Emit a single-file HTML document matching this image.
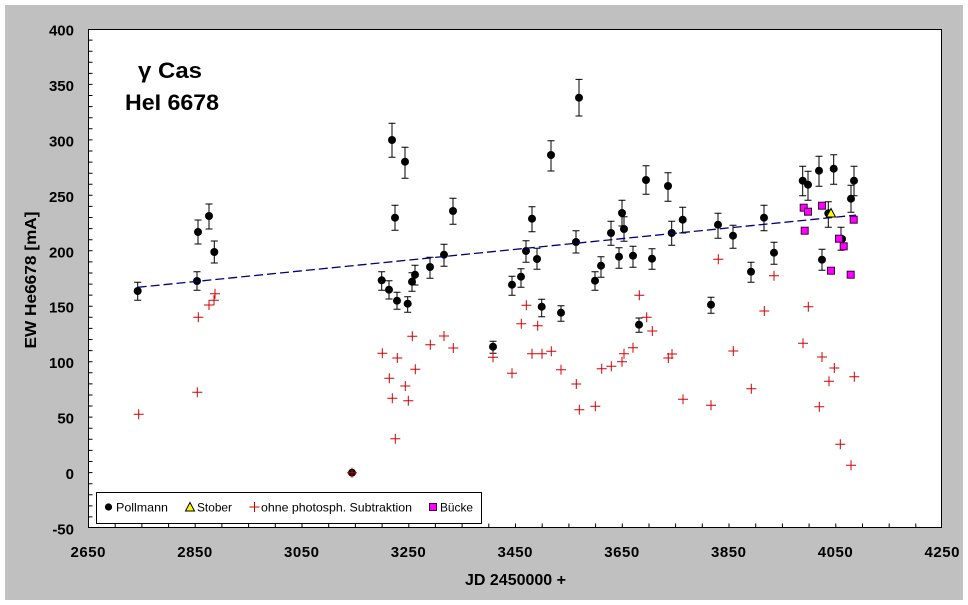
<!DOCTYPE html>
<html>
<head>
<meta charset="utf-8">
<style>
html,body{margin:0;padding:0;background:#fff;}
svg{display:block;}
text{font-family:"Liberation Sans",Arial,sans-serif;}
</style>
</head>
<body>
<svg width="968" height="605" viewBox="0 0 968 605" xmlns="http://www.w3.org/2000/svg">
<defs>
<circle id="d" r="4" fill="#000"/>
<path id="c" d="M-5 0H5M0-5V5" stroke="#d40000" stroke-width="1" fill="none"/>
<rect id="s" x="-3.5" y="-3.5" width="7" height="7" fill="#ff00ff" stroke="#400040" stroke-width="1"/>
</defs>
<rect x="0" y="0" width="968" height="605" fill="#fff"/>
<rect x="5" y="5" width="958" height="595" fill="#c0c0c0"/>
<rect x="88.5" y="29.5" width="853" height="498" fill="#fff" stroke="#000" stroke-width="1"/>

<g stroke="#000" stroke-width="1">
<path d="M115.2 528v-4.5M141.9 528v-4.5M168.6 528v-4.5M195.2 528v-4.5M221.9 528v-4.5M248.6 528v-4.5M275.3 528v-4.5M302 528v-4.5M328.7 528v-4.5M355.4 528v-4.5M382.1 528v-4.5M408.8 528v-4.5M435.4 528v-4.5M462.1 528v-4.5M488.8 528v-4.5M515.5 528v-4.5M542.2 528v-4.5M568.9 528v-4.5M595.6 528v-4.5M622.3 528v-4.5M649 528v-4.5M675.6 528v-4.5M702.3 528v-4.5M729 528v-4.5M755.7 528v-4.5M782.4 528v-4.5M809.1 528v-4.5M835.8 528v-4.5M862.5 528v-4.5M889.2 528v-4.5M915.8 528v-4.5"/>
<path d="M88 40.1h4.5M88 51.2h4.5M88 62.3h4.5M88 73.4h4.5M88 84.4h4.5M88 95.5h4.5M88 106.6h4.5M88 117.7h4.5M88 128.8h4.5M88 139.9h4.5M88 151h4.5M88 162.1h4.5M88 173.2h4.5M88 184.2h4.5M88 195.3h4.5M88 206.4h4.5M88 217.5h4.5M88 228.6h4.5M88 239.7h4.5M88 250.8h4.5M88 261.9h4.5M88 273h4.5M88 284.1h4.5M88 295.1h4.5M88 306.2h4.5M88 317.3h4.5M88 328.4h4.5M88 339.5h4.5M88 350.6h4.5M88 361.7h4.5M88 372.8h4.5M88 383.9h4.5M88 395h4.5M88 406h4.5M88 417.1h4.5M88 428.2h4.5M88 439.3h4.5M88 450.4h4.5M88 461.5h4.5M88 472.6h4.5M88 483.7h4.5M88 494.8h4.5M88 505.9h4.5M88 516.9h4.5"/>
</g>

<g font-weight="bold" font-size="15" fill="#000" text-anchor="end">
<text x="74" y="35.5">400</text>
<text x="74" y="90.9">350</text>
<text x="74" y="146.4">300</text>
<text x="74" y="201.8">250</text>
<text x="74" y="257.3">200</text>
<text x="74" y="312.7">150</text>
<text x="74" y="368.2">100</text>
<text x="74" y="423.6">50</text>
<text x="74" y="479.1">0</text>
<text x="74" y="534.5">-50</text>
</g>
<g font-weight="bold" font-size="15" fill="#000" text-anchor="middle">
<text x="88" y="557" textLength="35">2650</text>
<text x="194.75" y="557" textLength="35">2850</text>
<text x="301.5" y="557" textLength="35">3050</text>
<text x="408.25" y="557" textLength="35">3250</text>
<text x="515" y="557" textLength="35">3450</text>
<text x="621.75" y="557" textLength="35">3650</text>
<text x="728.5" y="557" textLength="35">3850</text>
<text x="835.25" y="557" textLength="35">4050</text>
<text x="942" y="557" textLength="35">4250</text>
</g>
<text x="515.5" y="585" font-weight="bold" font-size="16" text-anchor="middle" textLength="101" lengthAdjust="spacingAndGlyphs">JD 2450000 +</text>
<text transform="translate(36,280) rotate(-90)" font-weight="bold" font-size="15.5" text-anchor="middle" textLength="137" lengthAdjust="spacingAndGlyphs">EW He6678 [mA]</text>
<text x="170" y="78" font-weight="bold" font-size="22" text-anchor="middle" textLength="64" lengthAdjust="spacingAndGlyphs">γ Cas</text>
<text x="172" y="110" font-weight="bold" font-size="22" text-anchor="middle" textLength="94" lengthAdjust="spacingAndGlyphs">HeI 6678</text>

<g stroke="#000" stroke-width="1" fill="none">
<path d="M137.7 282.3V300.3M134.2 282.3h7M134.2 300.3h7
M197 271.7V290.3M193.5 271.7h7M193.5 290.3h7
M198 220V244M194.5 220h7M194.5 244h7
M209 204V229M205.5 204h7M205.5 229h7
M214.3 241V263M210.8 241h7M210.8 263h7
M392 123.3V157.3M388.5 123.3h7M388.5 157.3h7
M405 147.3V178.3M401.5 147.3h7M401.5 178.3h7
M395 205.3V230.3M391.5 205.3h7M391.5 230.3h7
M453 198.3V224.3M449.5 198.3h7M449.5 224.3h7
M444 244.3V266.3M440.5 244.3h7M440.5 266.3h7
M430 257.3V278.3M426.5 257.3h7M426.5 278.3h7
M415 265.3V285M411.5 265.3h7M411.5 285h7
M412 272.7V291.3M408.5 272.7h7M408.5 291.3h7
M381.7 271.7V290.3M378.2 271.7h7M378.2 290.3h7
M389 280.7V299M385.5 280.7h7M385.5 299h7
M397 292.3V309.3M393.5 292.3h7M393.5 309.3h7
M407.7 296.7V312.3M404.2 296.7h7M404.2 312.3h7
M579 79.4V116M575.5 79.4h7M575.5 116h7
M551 140.7V171M547.5 140.7h7M547.5 171h7
M646 165.7V194.3M642.5 165.7h7M642.5 194.3h7
M532 206.7V231.7M528.5 206.7h7M528.5 231.7h7
M622 200.3V226M618.5 200.3h7M618.5 226h7
M624 216.7V241.3M620.5 216.7h7M620.5 241.3h7
M611 221.3V245.3M607.5 221.3h7M607.5 245.3h7
M576 230.7V253M572.5 230.7h7M572.5 253h7
M526 240.7V262.3M522.5 240.7h7M522.5 262.3h7
M537 248.3V269.3M533.5 248.3h7M533.5 269.3h7
M619 247.7V268.3M615.5 247.7h7M615.5 268.3h7
M633 246.3V267.3M629.5 246.3h7M629.5 267.3h7
M652 248.7V269.3M648.5 248.7h7M648.5 269.3h7
M601 256.7V277.3M597.5 256.7h7M597.5 277.3h7
M595 271.7V290.3M591.5 271.7h7M591.5 290.3h7
M521 268.7V287.3M517.5 268.7h7M517.5 287.3h7
M512 276.3V295.3M508.5 276.3h7M508.5 295.3h7
M541.7 299.3V316.7M538.2 299.3h7M538.2 316.7h7
M561 305.7V321.3M557.5 305.7h7M557.5 321.3h7
M639 318V332.3M635.5 318h7M635.5 332.3h7
M493 341.3V353.3M489.5 341.3h7M489.5 353.3h7
M668 172.7V201.3M664.5 172.7h7M664.5 201.3h7
M671.7 221.3V245.3M668.2 221.3h7M668.2 245.3h7
M682.7 207.3V233M679.2 207.3h7M679.2 233h7
M718 213.3V238.3M714.5 213.3h7M714.5 238.3h7
M733 225.3V248.3M729.5 225.3h7M729.5 248.3h7
M764 205.3V230.7M760.5 205.3h7M760.5 230.7h7
M774 242.3V264.3M770.5 242.3h7M770.5 264.3h7
M751 262.3V282.3M747.5 262.3h7M747.5 282.3h7
M711 297.3V313.3M707.5 297.3h7M707.5 313.3h7
M802.7 166.3V195.7M799.2 166.3h7M799.2 195.7h7
M808 171.3V200.3M804.5 171.3h7M804.5 200.3h7
M819 156.3V186.3M815.5 156.3h7M815.5 186.3h7
M833.7 154.7V184.3M830.2 154.7h7M830.2 184.3h7
M854 166.3V195.7M850.5 166.3h7M850.5 195.7h7
M851 185.3V212.3M847.5 185.3h7M847.5 212.3h7
M828.3 201.7V227.3M824.8 201.7h7M824.8 227.3h7
M822 249.3V270.3M818.5 249.3h7M818.5 270.3h7
M841 227.3V250.3M837.5 227.3h7M837.5 250.3h7"/>
</g>

<g>
<use href="#d" x="137.7" y="291"/><use href="#d" x="197" y="281"/><use href="#d" x="198" y="232"/>
<use href="#d" x="209" y="216"/><use href="#d" x="214.3" y="252"/><use href="#d" x="352" y="472.7"/>
<use href="#d" x="392" y="140"/><use href="#d" x="405" y="161.7"/><use href="#d" x="395" y="217.7"/>
<use href="#d" x="453" y="211"/><use href="#d" x="444" y="254.7"/><use href="#d" x="430" y="267"/>
<use href="#d" x="415" y="274.7"/><use href="#d" x="412" y="281.7"/><use href="#d" x="381.7" y="280.3"/>
<use href="#d" x="389" y="289.7"/><use href="#d" x="397" y="300.7"/><use href="#d" x="407.7" y="303.7"/>
<use href="#d" x="579" y="97.7"/><use href="#d" x="551" y="155"/><use href="#d" x="646" y="180"/>
<use href="#d" x="532" y="218.7"/><use href="#d" x="622" y="213"/><use href="#d" x="624" y="229"/>
<use href="#d" x="611" y="233"/><use href="#d" x="576" y="242"/><use href="#d" x="526" y="251"/>
<use href="#d" x="537" y="259"/><use href="#d" x="619" y="256.7"/><use href="#d" x="633" y="255.7"/>
<use href="#d" x="652" y="258.7"/><use href="#d" x="601" y="265.7"/><use href="#d" x="595" y="280.7"/>
<use href="#d" x="521" y="276.7"/><use href="#d" x="512" y="284.7"/><use href="#d" x="541.7" y="306.7"/>
<use href="#d" x="561" y="312.7"/><use href="#d" x="639" y="324.7"/><use href="#d" x="493" y="346.7"/>
<use href="#d" x="668" y="186"/><use href="#d" x="671.7" y="233"/><use href="#d" x="682.7" y="219.7"/>
<use href="#d" x="718" y="224.7"/><use href="#d" x="733" y="235.7"/><use href="#d" x="764" y="217.7"/>
<use href="#d" x="774" y="252.7"/><use href="#d" x="751" y="271.7"/><use href="#d" x="711" y="304.7"/>
<use href="#d" x="802.7" y="180.7"/><use href="#d" x="808" y="184.7"/><use href="#d" x="819" y="170.7"/>
<use href="#d" x="833.7" y="168.7"/><use href="#d" x="854" y="180.7"/><use href="#d" x="851" y="198.7"/>
<use href="#d" x="828.3" y="213.3"/><use href="#d" x="822" y="259.7"/><use href="#d" x="842" y="239"/>
</g>

<line x1="137.7" y1="287.3" x2="856" y2="215.1" stroke="#000080" stroke-width="1.3" stroke-dasharray="9,4"/>

<g>
<use href="#c" x="138.7" y="414.3"/><use href="#c" x="197.3" y="392.3"/><use href="#c" x="198.3" y="317.3"/>
<use href="#c" x="209" y="305"/><use href="#c" x="214" y="300.3"/><use href="#c" x="215" y="293.7"/>
<use href="#c" x="412.3" y="336.3"/><use href="#c" x="444" y="336"/><use href="#c" x="430.3" y="344.7"/>
<use href="#c" x="453.3" y="348"/><use href="#c" x="382.3" y="353.3"/><use href="#c" x="397.3" y="358"/>
<use href="#c" x="415.3" y="369.3"/><use href="#c" x="389.3" y="378.3"/><use href="#c" x="405.3" y="386"/>
<use href="#c" x="392.3" y="398.3"/><use href="#c" x="408.3" y="400.7"/><use href="#c" x="395.3" y="438.7"/>
<use href="#c" x="352" y="472.7"/>
<use href="#c" x="639.3" y="295.3"/><use href="#c" x="526.3" y="305.3"/><use href="#c" x="646.7" y="317.3"/>
<use href="#c" x="521.3" y="323.7"/><use href="#c" x="537.7" y="325.7"/><use href="#c" x="652.3" y="331"/>
<use href="#c" x="633" y="347.7"/><use href="#c" x="532" y="353.7"/><use href="#c" x="542" y="353.7"/>
<use href="#c" x="551.3" y="351.3"/><use href="#c" x="624" y="353.7"/><use href="#c" x="493" y="357.3"/>
<use href="#c" x="622" y="361.7"/><use href="#c" x="611.3" y="366.3"/><use href="#c" x="601.7" y="368.7"/>
<use href="#c" x="561" y="369.7"/><use href="#c" x="512" y="373.3"/><use href="#c" x="576.3" y="384"/>
<use href="#c" x="595.3" y="406.3"/><use href="#c" x="579.3" y="409.7"/>
<use href="#c" x="718.3" y="259.3"/><use href="#c" x="774" y="275.7"/><use href="#c" x="764.3" y="311"/>
<use href="#c" x="808.3" y="306.7"/><use href="#c" x="733.3" y="351"/><use href="#c" x="803" y="343.3"/>
<use href="#c" x="672" y="354"/><use href="#c" x="668.3" y="358"/><use href="#c" x="822" y="357"/>
<use href="#c" x="834.3" y="368"/><use href="#c" x="829" y="381.3"/><use href="#c" x="854.3" y="376.7"/>
<use href="#c" x="751.3" y="388.7"/><use href="#c" x="683" y="399.3"/><use href="#c" x="711" y="405.3"/>
<use href="#c" x="819.3" y="406.7"/><use href="#c" x="840.3" y="444.3"/><use href="#c" x="851" y="465.3"/>
</g>

<polygon points="831,208.5 835.5,217 826.5,217" fill="#ffff00" stroke="#000" stroke-width="1"/>

<g>
<use href="#s" x="803.7" y="207.7"/><use href="#s" x="808" y="211.7"/><use href="#s" x="822" y="205.7"/>
<use href="#s" x="804.7" y="230.7"/><use href="#s" x="853.7" y="219.7"/><use href="#s" x="839" y="238.7"/>
<use href="#s" x="843.7" y="246.3"/><use href="#s" x="831" y="270.7"/><use href="#s" x="850.7" y="274.7"/>
</g>

<rect x="96.5" y="492.5" width="385" height="31" fill="#fff" stroke="#000" stroke-width="1"/>
<circle cx="108.5" cy="507" r="3.6" fill="#000"/>
<polygon points="190,502.5 194.5,511 185.5,511" fill="#ffff00" stroke="#000" stroke-width="1"/>
<use href="#c" x="254.5" y="507"/>
<use href="#s" x="433" y="507"/>
<g font-size="12" fill="#000">
<text x="116" y="511.5" textLength="52" lengthAdjust="spacingAndGlyphs">Pollmann</text>
<text x="197" y="511.5" textLength="35" lengthAdjust="spacingAndGlyphs">Stober</text>
<text x="261" y="511.5" textLength="151" lengthAdjust="spacingAndGlyphs">ohne photosph. Subtraktion</text>
<text x="440" y="511.5" textLength="33" lengthAdjust="spacingAndGlyphs">Bücke</text>
</g>
</svg>
</body>
</html>
